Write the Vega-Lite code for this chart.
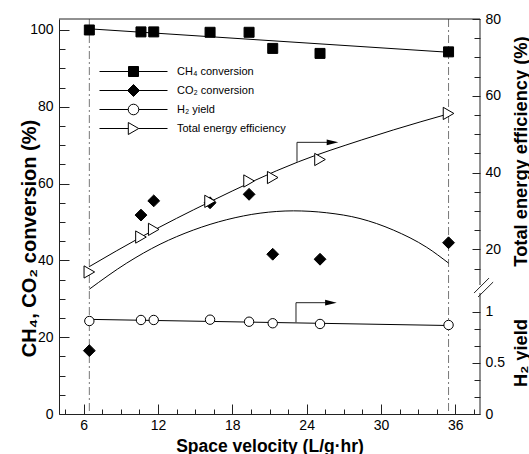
{
  "$schema": "https://vega.github.io/schema/vega-lite/v6.json",
  "width": 421,
  "height": 395,
  "autosize": {"type": "none"},
  "padding": {"left": 59, "top": 19, "right": 49, "bottom": 40},
  "background": "white",
  "config": {
    "view": {"stroke": null},
    "axis": {
      "grid": false,
      "labelFont": "Liberation Sans",
      "labelFontSize": 14,
      "labelColor": "#000000",
      "titleFont": "Liberation Sans",
      "titleFontSize": 17.5,
      "titleFontWeight": "bold",
      "titleColor": "#000000",
      "domainColor": "#222222",
      "tickColor": "#222222",
      "labelOverlap": false,
      "labelFlush": false
    },
    "legend": {
      "orient": "none",
      "legendX": 69,
      "legendY": 47,
      "padding": 0,
      "symbolSize": 100,
      "symbolStrokeWidth": 1,
      "symbolStrokeColor": "#000000",
      "symbolOpacity": 1,
      "labelFont": "Liberation Sans",
      "labelFontSize": 11,
      "labelColor": "#000000",
      "labelOffset": 38,
      "labelLimit": 300,
      "rowPadding": 3
    }
  },
  "datasets": {
    "left": [
      {"s": "ch4", "sv": 6.45, "val": 100.0},
      {"s": "ch4", "sv": 10.62, "val": 99.5},
      {"s": "ch4", "sv": 11.65, "val": 99.5},
      {"s": "ch4", "sv": 16.2, "val": 99.4},
      {"s": "ch4", "sv": 19.35, "val": 99.4},
      {"s": "ch4", "sv": 21.26, "val": 95.2},
      {"s": "ch4", "sv": 25.08, "val": 93.9},
      {"s": "ch4", "sv": 35.46, "val": 94.3},
      {"s": "co2", "sv": 6.45, "val": 16.5},
      {"s": "co2", "sv": 10.62, "val": 51.8},
      {"s": "co2", "sv": 11.65, "val": 55.5},
      {"s": "co2", "sv": 16.2, "val": 55.0},
      {"s": "co2", "sv": 19.35, "val": 57.2},
      {"s": "co2", "sv": 21.26, "val": 41.6},
      {"s": "co2", "sv": 25.08, "val": 40.3},
      {"s": "co2", "sv": 35.46, "val": 44.6},
      {"s": "ch4fit", "sv": 6.45, "val": 100.3},
      {"s": "ch4fit", "sv": 35.46, "val": 94.2},
      {"s": "co2fit", "sv": 6.45, "val": 32.5},
      {"s": "co2fit", "sv": 9.47, "val": 39.3},
      {"s": "co2fit", "sv": 12.16, "val": 44.2},
      {"s": "co2fit", "sv": 14.85, "val": 47.9},
      {"s": "co2fit", "sv": 17.55, "val": 50.6},
      {"s": "co2fit", "sv": 20.24, "val": 52.3},
      {"s": "co2fit", "sv": 22.93, "val": 52.9},
      {"s": "co2fit", "sv": 25.62, "val": 52.4},
      {"s": "co2fit", "sv": 28.31, "val": 50.9},
      {"s": "co2fit", "sv": 31.0, "val": 47.9},
      {"s": "co2fit", "sv": 33.7, "val": 43.4},
      {"s": "co2fit", "sv": 35.46, "val": 39.3}
    ],
    "eff": [
      {"s": "pt", "sv": 6.45, "val": 14.1},
      {"s": "pt", "sv": 10.62, "val": 23.2},
      {"s": "pt", "sv": 11.65, "val": 25.2},
      {"s": "pt", "sv": 16.2, "val": 32.5},
      {"s": "pt", "sv": 19.35, "val": 37.8},
      {"s": "pt", "sv": 21.26, "val": 38.7},
      {"s": "pt", "sv": 25.08, "val": 43.4},
      {"s": "pt", "sv": 35.46, "val": 55.4},
      {"s": "fit", "sv": 6.45, "val": 15.5},
      {"s": "fit", "sv": 10.8, "val": 23.5},
      {"s": "fit", "sv": 16.2, "val": 32.4},
      {"s": "fit", "sv": 23.33, "val": 42.8},
      {"s": "fit", "sv": 28.45, "val": 48.5},
      {"s": "fit", "sv": 31.0, "val": 51.1},
      {"s": "fit", "sv": 35.46, "val": 55.3},
      {"s": "arrow", "i": 0, "sv": 23.22, "val": 42.82},
      {"s": "arrow", "i": 1, "sv": 23.22, "val": 47.87},
      {"s": "arrow", "i": 2, "sv": 25.7, "val": 47.87},
      {"s": "head", "sv": 26.09, "val": 47.87}
    ],
    "h2": [
      {"s": "pt", "sv": 6.45, "val": 0.909},
      {"s": "pt", "sv": 10.62, "val": 0.919},
      {"s": "pt", "sv": 11.65, "val": 0.919},
      {"s": "pt", "sv": 16.2, "val": 0.922},
      {"s": "pt", "sv": 19.35, "val": 0.902},
      {"s": "pt", "sv": 21.26, "val": 0.887},
      {"s": "pt", "sv": 25.08, "val": 0.88},
      {"s": "pt", "sv": 35.46, "val": 0.87},
      {"s": "fit", "sv": 6.45, "val": 0.925},
      {"s": "fit", "sv": 35.46, "val": 0.865},
      {"s": "arrow", "i": 0, "sv": 23.14, "val": 0.896},
      {"s": "arrow", "i": 1, "sv": 23.14, "val": 1.088},
      {"s": "arrow", "i": 2, "sv": 25.55, "val": 1.088},
      {"s": "head", "sv": 25.96, "val": 1.088}
    ],
    "slashes": [
      {"sv": 37.52, "sv2": 38.73, "val": 8.61, "val2": 12.52},
      {"sv": 37.84, "sv2": 39.06, "val": 7.57, "val2": 11.47}
    ],
    "vlines": [{"sv": 6.45}, {"sv": 35.46}],
    "one": [{"k": 1}],
    "series": [
      {"series": "CH₄ conversion"},
      {"series": "CO₂ conversion"},
      {"series": "H₂ yield"},
      {"series": "Total energy efficiency"}
    ]
  },
  "layer": [
    {
      "data": {"name": "vlines"},
      "mark": {"type": "rule", "color": "#777777", "strokeWidth": 1, "strokeDash": [8, 3, 2, 3]},
      "encoding": {
        "x": {"field": "sv", "type": "quantitative", "scale": {"domain": [4, 38], "nice": false, "zero": false}, "axis": null}
      }
    },
    {
      "data": {"name": "left"},
      "encoding": {
        "x": {"field": "sv", "type": "quantitative", "scale": {"domain": [4, 38], "nice": false, "zero": false}, "axis": null},
        "y": {"field": "val", "type": "quantitative", "scale": {"domain": [0, 102.86], "nice": false, "zero": false}, "axis": null}
      },
      "layer": [
        {
          "transform": [{"filter": "datum.s === 'ch4fit'"}],
          "mark": {"type": "line", "color": "#000000", "strokeWidth": 1},
          "encoding": {
            "x": {
              "field": "sv", "type": "quantitative",
              "scale": {"domain": [4, 38], "nice": false, "zero": false},
              "axis": {
                "orient": "bottom",
                "values": [6, 12, 18, 24, 30, 36],
                "format": "d",
                "tickSize": 0,
                "labelPadding": 4,
                "title": "Space velocity (L/g·hr)",
                "titleY": 37,
                "titleBaseline": "alphabetic"
              }
            },
            "y": {
              "field": "val", "type": "quantitative",
              "scale": {"domain": [0, 102.86], "nice": false, "zero": false},
              "axis": {
                "orient": "left",
                "values": [0, 20, 40, 60, 80, 100],
                "format": "d",
                "tickSize": 0,
                "labelPadding": 6,
                "title": "CH₄, CO₂ conversion (%)",
                "titleFontSize": 20,
                "titleAngle": 270,
                "titleX": -30,
                "titleY": 219,
                "titleBaseline": "middle",
                "titleAlign": "center"
              }
            }
          }
        },
        {
          "transform": [{"filter": "datum.s === 'co2fit'"}],
          "mark": {"type": "line", "color": "#000000", "strokeWidth": 1, "interpolate": "monotone"},
          "encoding": {
            "x": {
              "field": "sv", "type": "quantitative",
              "scale": {"domain": [4, 38], "nice": false, "zero": false},
              "axis": {"orient": "bottom", "offset": -10, "values": [6, 12, 18, 24, 30, 36], "tickSize": 10, "labels": false, "domain": false, "title": null}
            },
            "y": {
              "field": "val", "type": "quantitative",
              "scale": {"domain": [0, 102.86], "nice": false, "zero": false},
              "axis": {"orient": "left", "offset": -10, "values": [0, 20, 40, 60, 80, 100], "tickSize": 10, "labels": false, "domain": false, "title": null}
            }
          }
        },
        {
          "transform": [{"filter": "datum.s === 'ch4'"}],
          "mark": {"type": "point", "shape": "square", "filled": true, "fill": "#000000", "stroke": "#000000", "strokeWidth": 1, "size": 100, "opacity": 1},
          "encoding": {
            "x": {
              "field": "sv", "type": "quantitative",
              "scale": {"domain": [4, 38], "nice": false, "zero": false},
              "axis": {"orient": "bottom", "offset": -5, "values": [4.5, 7.5, 9, 10.5, 13.5, 15, 16.5, 19.5, 21, 22.5, 25.5, 27, 28.5, 31.5, 33, 34.5, 37.5], "tickSize": 5, "labels": false, "domain": false, "title": null}
            },
            "y": {
              "field": "val", "type": "quantitative",
              "scale": {"domain": [0, 102.86], "nice": false, "zero": false},
              "axis": {"orient": "left", "offset": -6, "values": [5, 10, 15, 25, 30, 35, 45, 50, 55, 65, 70, 75, 85, 90, 95], "tickSize": 6, "labels": false, "domain": false, "title": null}
            }
          }
        },
        {
          "transform": [{"filter": "datum.s === 'co2'"}],
          "mark": {"type": "point", "shape": "diamond", "filled": true, "fill": "#000000", "stroke": "#000000", "strokeWidth": 1, "size": 140, "opacity": 1}
        }
      ],
      "resolve": {"axis": {"x": "independent", "y": "independent"}}
    },
    {
      "data": {"name": "eff"},
      "encoding": {
        "x": {"field": "sv", "type": "quantitative", "scale": {"domain": [4, 38], "nice": false, "zero": false}, "axis": null},
        "y": {"field": "val", "type": "quantitative", "scale": {"domain": [-22.9, 80], "nice": false, "zero": false}, "axis": null}
      },
      "layer": [
        {
          "transform": [{"filter": "datum.s === 'fit'"}],
          "mark": {"type": "line", "color": "#000000", "strokeWidth": 1, "interpolate": "monotone"},
          "encoding": {
            "y": {
              "field": "val", "type": "quantitative",
              "scale": {"domain": [-22.9, 80], "nice": false, "zero": false},
              "axis": {
                "orient": "right",
                "domain": false,
                "values": [20, 40, 60, 80],
                "format": "d",
                "tickSize": 0,
                "labelPadding": 5,
                "title": "Total energy efficiency (%)",
                "titleFontSize": 18.3,
                "titleAngle": 270,
                "titleX": 41,
                "titleY": 132,
                "titleBaseline": "middle",
                "titleAlign": "center"
              }
            }
          }
        },
        {
          "transform": [{"filter": "datum.s === 'arrow'"}],
          "mark": {"type": "line", "color": "#222222", "strokeWidth": 1},
          "encoding": {
            "order": {"field": "i", "type": "quantitative"},
            "y": {
              "field": "val", "type": "quantitative",
              "scale": {"domain": [-22.9, 80], "nice": false, "zero": false},
              "axis": {"orient": "right", "offset": -8, "values": [20, 40, 60, 80], "tickSize": 8, "labels": false, "domain": false, "title": null}
            }
          }
        },
        {
          "transform": [{"filter": "datum.s === 'head'"}],
          "mark": {"type": "point", "shape": "M-1,-0.5L1,0L-1,0.5Z", "filled": true, "fill": "#000000", "strokeWidth": 0, "size": 135, "opacity": 1}
        },
        {
          "transform": [{"filter": "datum.s === 'pt'"}],
          "mark": {"type": "point", "shape": "triangle-right", "filled": true, "fill": "#ffffff", "stroke": "#000000", "strokeWidth": 1, "size": 150, "opacity": 1},
          "encoding": {
            "y": {
              "field": "val", "type": "quantitative",
              "scale": {"domain": [-22.9, 80], "nice": false, "zero": false},
              "axis": {"orient": "right", "offset": -6, "values": [15, 25, 30, 35, 45, 50, 55, 65, 70, 75], "tickSize": 6, "labels": false, "domain": false, "title": null}
            }
          }
        },
        {
          "data": {"name": "slashes"},
          "mark": {"type": "rule", "color": "#222222", "strokeWidth": 1},
          "encoding": {
            "x2": {"field": "sv2"},
            "y2": {"field": "val2"}
          }
        }
      ],
      "resolve": {"axis": {"y": "independent"}}
    },
    {
      "data": {"name": "h2"},
      "encoding": {
        "x": {"field": "sv", "type": "quantitative", "scale": {"domain": [4, 38], "nice": false, "zero": false}, "axis": null},
        "y": {"field": "val", "type": "quantitative", "scale": {"domain": [0, 3.861], "nice": false, "zero": false}, "axis": null}
      },
      "layer": [
        {
          "transform": [{"filter": "datum.s === 'fit'"}],
          "mark": {"type": "line", "color": "#000000", "strokeWidth": 1},
          "encoding": {
            "y": {
              "field": "val", "type": "quantitative",
              "scale": {"domain": [0, 3.861], "nice": false, "zero": false},
              "axis": {
                "orient": "right",
                "domain": false,
                "values": [0, 0.5, 1],
                "format": "~g",
                "tickSize": 0,
                "labelPadding": 5,
                "title": "H₂ yield",
                "titleFontSize": 18.3,
                "titleAngle": 270,
                "titleX": 41,
                "titleY": 333.5,
                "titleBaseline": "middle",
                "titleAlign": "center"
              }
            }
          }
        },
        {
          "transform": [{"filter": "datum.s === 'arrow'"}],
          "mark": {"type": "line", "color": "#222222", "strokeWidth": 1},
          "encoding": {
            "order": {"field": "i", "type": "quantitative"},
            "y": {
              "field": "val", "type": "quantitative",
              "scale": {"domain": [0, 3.861], "nice": false, "zero": false},
              "axis": {"orient": "right", "offset": -8, "values": [0, 0.5, 1], "tickSize": 8, "labels": false, "domain": false, "title": null}
            }
          }
        },
        {
          "transform": [{"filter": "datum.s === 'head'"}],
          "mark": {"type": "point", "shape": "M-1,-0.5L1,0L-1,0.5Z", "filled": true, "fill": "#000000", "strokeWidth": 0, "size": 135, "opacity": 1}
        },
        {
          "transform": [{"filter": "datum.s === 'pt'"}],
          "mark": {"type": "point", "shape": "circle", "filled": true, "fill": "#ffffff", "stroke": "#000000", "strokeWidth": 1, "size": 88, "opacity": 1},
          "encoding": {
            "y": {
              "field": "val", "type": "quantitative",
              "scale": {"domain": [0, 3.861], "nice": false, "zero": false},
              "axis": {"orient": "right", "offset": -6, "values": [0.16667, 0.33333, 0.66667, 0.83333], "tickSize": 6, "labels": false, "domain": false, "title": null}
            }
          }
        }
      ],
      "resolve": {"axis": {"y": "independent"}}
    },
    {
      "data": {"name": "one"},
      "mark": {"type": "rule", "color": "#222222", "strokeWidth": 1},
      "encoding": {
        "y": {"datum": 102.86, "type": "quantitative", "scale": {"domain": [0, 102.86], "nice": false, "zero": false}, "axis": null}
      }
    },
    {
      "data": {"name": "one"},
      "mark": {"type": "rule", "color": "#222222", "strokeWidth": 1},
      "encoding": {
        "x": {"datum": 38, "type": "quantitative", "scale": {"domain": [4, 38], "nice": false, "zero": false}, "axis": null},
        "y": {"datum": 10.69, "type": "quantitative", "scale": {"domain": [-22.9, 80], "nice": false, "zero": false}, "axis": null},
        "y2": {"datum": 80}
      }
    },
    {
      "data": {"name": "one"},
      "mark": {"type": "rule", "color": "#222222", "strokeWidth": 1},
      "encoding": {
        "x": {"datum": 38, "type": "quantitative", "scale": {"domain": [4, 38], "nice": false, "zero": false}, "axis": null},
        "y": {"datum": 0, "type": "quantitative", "scale": {"domain": [0, 3.861], "nice": false, "zero": false}, "axis": null},
        "y2": {"datum": 1.183}
      }
    },
    {
      "data": {"name": "series"},
      "mark": {"type": "point", "filled": true, "stroke": "#000000", "strokeWidth": 1, "opacity": 0},
      "encoding": {
        "shape": {
          "field": "series", "type": "nominal",
          "scale": {
            "domain": ["CH₄ conversion", "CO₂ conversion", "H₂ yield", "Total energy efficiency"],
            "range": [
              "M-6.8,0H6.8M-1,-1H1V1H-1Z",
              "M-6.8,0H6.8M-1.2,0L0,-1.2L1.2,0L0,1.2Z",
              "M-6.8,0H-1.06M1.06,0H6.8M-1.06,0A1.06,1.06,0,1,0,1.06,0A1.06,1.06,0,1,0,-1.06,0Z",
              "M-6.8,0H-1.04M1.04,0H6.8M-1.04,-1.2L1.04,0L-1.04,1.2Z"
            ]
          },
          "legend": {"title": null, "encode": {"symbols": {"update": {"stroke": {"value": "#000000"}, "strokeWidth": {"value": 1}, "opacity": {"value": 1}}}}}
        },
        "fill": {
          "field": "series", "type": "nominal",
          "scale": {
            "domain": ["CH₄ conversion", "CO₂ conversion", "H₂ yield", "Total energy efficiency"],
            "range": ["#000000", "#000000", "#ffffff", "#ffffff"]
          },
          "legend": {"title": null, "encode": {"symbols": {"update": {"stroke": {"value": "#000000"}, "strokeWidth": {"value": 1}, "opacity": {"value": 1}}}}}
        }
      }
    }
  ],
  "resolve": {"scale": {"y": "independent"}, "axis": {"x": "independent", "y": "independent"}}
}
